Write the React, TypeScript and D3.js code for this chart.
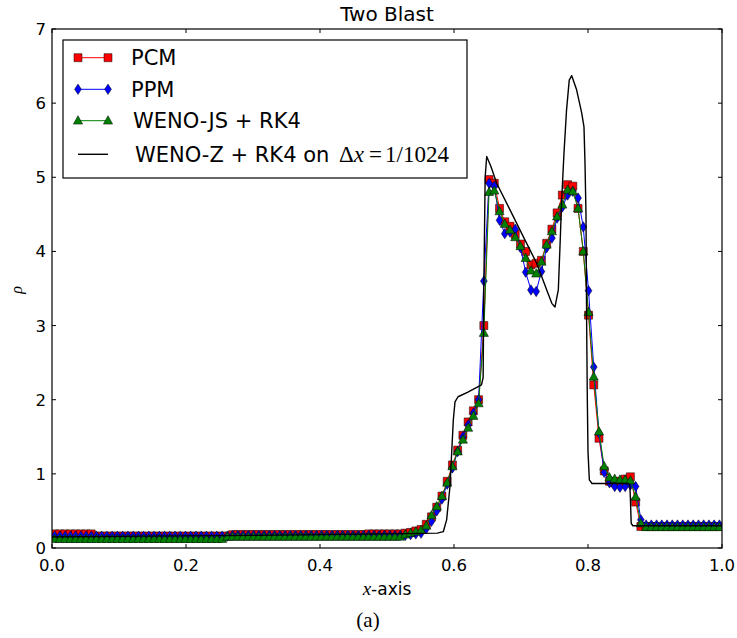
import React, { useEffect, useRef } from 'react';
import * as d3 from 'd3';

// cell-averaged density on a 128-cell grid
const cells = 128;

const pcm = [
  0.19, 0.19, 0.19, 0.19, 0.19, 0.19, 0.19, 0.19,
  0.16, 0.16, 0.16, 0.16, 0.16, 0.16, 0.16, 0.16, 0.16, 0.16,
  0.16, 0.16, 0.16, 0.16, 0.16, 0.16, 0.16, 0.16, 0.16, 0.16,
  0.16, 0.16, 0.16, 0.16, 0.16, 0.16,
  0.18, 0.18, 0.18, 0.18, 0.18, 0.18, 0.18, 0.18, 0.18, 0.18,
  0.18, 0.18, 0.18, 0.18, 0.18, 0.18, 0.18, 0.18, 0.18, 0.18,
  0.18, 0.18, 0.18, 0.18, 0.18, 0.18,
  0.19, 0.19, 0.19, 0.19, 0.19, 0.19, 0.19,
  0.2, 0.21, 0.23, 0.25, 0.32, 0.42, 0.55, 0.70, 0.90, 1.12,
  1.32, 1.52, 1.70, 1.85, 2.0, 3.0, 4.97, 4.92, 4.58, 4.40,
  4.34, 4.23, 4.10, 4.00, 3.82, 3.84, 3.88, 4.11, 4.30, 4.52,
  4.76, 4.90, 4.88, 4.58, 4.00, 3.14, 2.20, 1.48, 1.04, 0.90,
  0.88, 0.90, 0.93, 0.96, 0.62, 0.29,
  0.29, 0.29, 0.29, 0.29, 0.29, 0.29, 0.29, 0.29, 0.29, 0.29,
  0.29, 0.29, 0.29, 0.29, 0.29,
];

const ppm = [
  0.16, 0.16, 0.16, 0.16, 0.16, 0.16, 0.16, 0.16, 0.16, 0.16,
  0.16, 0.16, 0.16, 0.16, 0.16, 0.16, 0.16, 0.16, 0.16, 0.16,
  0.16, 0.16, 0.16, 0.16, 0.16, 0.16, 0.16, 0.16, 0.16, 0.16,
  0.16, 0.16, 0.16, 0.16,
  0.17, 0.17, 0.17, 0.17, 0.17, 0.17, 0.17, 0.17, 0.17, 0.17,
  0.17, 0.17, 0.17, 0.17, 0.17, 0.17, 0.17, 0.17, 0.17, 0.17,
  0.17, 0.17, 0.17, 0.17, 0.17, 0.17, 0.17, 0.17, 0.17, 0.17,
  0.17, 0.17, 0.17,
  0.17, 0.18, 0.19, 0.2, 0.26, 0.36, 0.5, 0.66, 0.86, 1.08,
  1.3, 1.5, 1.66, 1.82, 2.0, 3.6, 4.92, 4.88, 4.42, 4.24,
  4.26, 4.30, 4.05, 3.72, 3.48, 3.46, 3.73, 4.05, 4.18, 4.45,
  4.60, 4.76, 4.81, 4.72, 4.33, 3.47, 2.44, 1.55, 1.02, 0.88,
  0.83, 0.82, 0.83, 0.85, 0.83, 0.38,
  0.31, 0.31, 0.31, 0.31, 0.31, 0.31, 0.31, 0.31, 0.31, 0.31,
  0.31, 0.31, 0.31, 0.31, 0.31,
];

const wenoJs = [
  0.12, 0.12, 0.12, 0.12, 0.12, 0.12, 0.12, 0.12, 0.12, 0.12,
  0.12, 0.12, 0.12, 0.12, 0.12, 0.12, 0.12, 0.12, 0.12, 0.12,
  0.12, 0.12, 0.12, 0.12, 0.12, 0.12, 0.12, 0.12, 0.12, 0.12,
  0.12, 0.12, 0.12,
  0.15, 0.15, 0.15, 0.15, 0.15, 0.15, 0.15, 0.15, 0.15, 0.15,
  0.15, 0.15, 0.15, 0.15, 0.15, 0.15, 0.15, 0.15, 0.15, 0.15,
  0.15, 0.15, 0.15, 0.15, 0.15, 0.15, 0.15, 0.15, 0.15, 0.15,
  0.15, 0.15, 0.15, 0.15,
  0.18, 0.2, 0.22, 0.24, 0.3, 0.44, 0.56, 0.7, 0.88, 1.1,
  1.3, 1.46, 1.62, 1.78, 1.95, 2.9, 4.80, 4.82, 4.54, 4.37,
  4.29, 4.19, 4.07, 3.91, 3.74, 3.70, 3.86, 4.09, 4.27, 4.47,
  4.63, 4.83, 4.81, 4.58, 4.00, 3.18, 2.31, 1.57, 1.10, 0.95,
  0.93, 0.92, 0.92, 0.91, 0.69, 0.33,
  0.28, 0.28, 0.28, 0.28, 0.28, 0.28, 0.28, 0.28, 0.28, 0.28,
  0.28, 0.28, 0.28, 0.28, 0.28,
];

// fine-grid reference (WENO-Z, dx = 1/1024), traced points
const refX = [
  0, 0.3, 0.5, 0.575, 0.584, 0.589, 0.594, 0.599, 0.6015, 0.606,
  0.62, 0.641, 0.6435, 0.6445, 0.6465, 0.6488, 0.655, 0.6637, 0.6836, 0.7034,
  0.7234, 0.7384, 0.746, 0.7507, 0.7557, 0.758, 0.7607, 0.764, 0.768, 0.772,
  0.7757, 0.783, 0.7906, 0.794, 0.7955, 0.797, 0.798, 0.799, 0.8, 0.802,
  0.806, 0.86, 0.8625, 0.8635, 0.8645, 0.867, 1.0,
];
const refRho = [
  0.15, 0.17, 0.19, 0.2, 0.22, 0.38, 0.83, 1.73, 1.97, 2.04,
  2.1, 2.2, 2.3, 3.5, 5.0, 5.28, 5.15, 4.92, 4.56, 4.2,
  3.84, 3.48, 3.3, 3.25, 3.48, 4.02, 4.69, 5.3, 5.91, 6.31,
  6.37, 6.18, 5.87, 5.68, 5.2, 4.5, 3.0, 2.0, 1.3, 0.92,
  0.87, 0.87, 0.85, 0.6, 0.33, 0.3, 0.3,
];

const xTicks = [0, 0.2, 0.4, 0.6, 0.8, 1.0];
const yTicks = [0, 1, 2, 3, 4, 5, 6, 7];

const App = () => {
  const svgRef = useRef(null);

  useEffect(() => {
    const width = 737;
    const height = 638;
    const margin = { top: 29, right: 15, bottom: 90, left: 52 };
    const w = width - margin.left - margin.right;
    const h = height - margin.top - margin.bottom;
    const sans = 'DejaVu Sans, sans-serif';
    const serif = 'Liberation Serif, DejaVu Serif, serif';

    const svg = d3.select(svgRef.current);
    svg.selectAll('*').remove();
    svg.attr('width', width).attr('height', height);

    const x = d3.scaleLinear().domain([0, 1]).range([0, w]);
    const y = d3.scaleLinear().domain([0, 7]).range([h, 0]);
    const xc = d3.range(cells).map(i => (i + 0.5) / cells);

    svg.append('defs').append('clipPath').attr('id', 'plotclip')
      .append('rect').attr('width', w).attr('height', h);

    const g = svg.append('g').attr('transform', `translate(${margin.left},${margin.top})`);
    const plot = g.append('g').attr('clip-path', 'url(#plotclip)');

    const line = d3.line().x(d => x(d[0])).y(d => y(d[1]));

    const square = d3.symbol().type(d3.symbolSquare).size(64);
    const diamond = 'M0,-5.2L3.4,0L0,5.2L-3.4,0Z';
    const triangle = 'M0,-5L4.6,3.4L-4.6,3.4Z';

    const series = [
      { name: 'PCM', values: pcm, color: '#ff0000', marker: square() },
      { name: 'PPM', values: ppm, color: '#0000ff', marker: diamond },
      { name: 'WENO-JS + RK4', values: wenoJs, color: '#008000', marker: triangle },
    ];

    series.forEach(s => {
      const pts = s.values.map((v, i) => [xc[i], v]);
      plot.append('path')
        .attr('d', line(pts))
        .attr('fill', 'none')
        .attr('stroke', s.color)
        .attr('stroke-width', 1);
      plot.selectAll(null)
        .data(pts)
        .enter()
        .append('path')
        .attr('d', s.marker)
        .attr('transform', d => `translate(${x(d[0])},${y(d[1])})`)
        .attr('fill', s.color)
        .attr('stroke', '#000')
        .attr('stroke-width', 0.5);
    });

    plot.append('path')
      .attr('d', line(refX.map((v, i) => [v, refRho[i]])))
      .attr('fill', 'none')
      .attr('stroke', '#000')
      .attr('stroke-width', 1.4)
      .attr('stroke-linejoin', 'round');

    // frame and ticks (inside, all four sides)
    g.append('rect').attr('width', w).attr('height', h)
      .attr('fill', 'none').attr('stroke', '#000').attr('stroke-width', 1.2);

    const tl = 4;
    xTicks.forEach(t => {
      g.append('line').attr('x1', x(t)).attr('x2', x(t)).attr('y1', h).attr('y2', h - tl).attr('stroke', '#000');
      g.append('line').attr('x1', x(t)).attr('x2', x(t)).attr('y1', 0).attr('y2', tl).attr('stroke', '#000');
      g.append('text').attr('x', x(t)).attr('y', h + 23)
        .attr('text-anchor', 'middle').attr('font-family', sans).attr('font-size', 16.5)
        .text(d3.format('.1f')(t));
    });
    yTicks.forEach(t => {
      g.append('line').attr('x1', 0).attr('x2', tl).attr('y1', y(t)).attr('y2', y(t)).attr('stroke', '#000');
      g.append('line').attr('x1', w).attr('x2', w - tl).attr('y1', y(t)).attr('y2', y(t)).attr('stroke', '#000');
      g.append('text').attr('x', -6).attr('y', y(t)).attr('dy', '0.36em')
        .attr('text-anchor', 'end').attr('font-family', sans).attr('font-size', 16.5)
        .text(t);
    });

    // title and axis labels
    svg.append('text').attr('x', margin.left + w / 2).attr('y', 21)
      .attr('text-anchor', 'middle').attr('font-family', sans).attr('font-size', 20)
      .text('Two Blast');

    const xl = svg.append('text').attr('x', margin.left + w / 2).attr('y', 595)
      .attr('text-anchor', 'middle').attr('font-family', sans).attr('font-size', 17);
    xl.append('tspan').attr('font-family', serif).attr('font-style', 'italic').attr('font-size', 19).text('x');
    xl.append('tspan').text('-axis');

    svg.append('text').attr('x', 368).attr('y', 627)
      .attr('text-anchor', 'middle').attr('font-family', serif).attr('font-size', 21)
      .text('(a)');

    svg.append('text').attr('transform', 'translate(22,290) rotate(-90)')
      .attr('text-anchor', 'middle').attr('font-family', serif).attr('font-style', 'italic')
      .attr('font-size', 16).text('ρ');

    // legend
    const lg = svg.append('g');
    lg.append('rect').attr('x', 63).attr('y', 40).attr('width', 404).attr('height', 138)
      .attr('fill', '#fff').attr('stroke', '#000').attr('stroke-width', 1.2);
    const rowY = [57.7, 89.3, 120.7, 154.3];
    const textX = [131, 131, 133, 135];
    series.forEach((s, i) => {
      const ry = rowY[i];
      lg.append('line').attr('x1', 78).attr('x2', 108).attr('y1', ry).attr('y2', ry)
        .attr('stroke', s.color).attr('stroke-width', 1);
      [78, 108].forEach(mx => {
        lg.append('path').attr('d', s.marker).attr('transform', `translate(${mx},${ry})`)
          .attr('fill', s.color).attr('stroke', '#000').attr('stroke-width', 0.5);
      });
      lg.append('text').attr('x', textX[i]).attr('y', ry + 7.5).attr('font-family', sans)
        .attr('font-size', 21).text(s.name);
    });
    lg.append('line').attr('x1', 78).attr('x2', 108).attr('y1', rowY[3]).attr('y2', rowY[3])
      .attr('stroke', '#000').attr('stroke-width', 1.4);
    const rt = lg.append('text').attr('x', textX[3]).attr('y', rowY[3] + 7.5)
      .attr('font-family', sans).attr('font-size', 21);
    rt.append('tspan').text('WENO-Z + RK4 on ');
    rt.append('tspan').attr('font-family', serif).attr('font-size', 23).attr('dx', 3).text('Δ');
    rt.append('tspan').attr('font-family', serif).attr('font-style', 'italic').attr('font-size', 23).text('x');
    rt.append('tspan').attr('font-family', serif).attr('font-size', 23).attr('dx', 5).text('=');
    rt.append('tspan').attr('font-family', serif).attr('font-size', 23).attr('dx', 3).text('1/1024');
  }, []);

  return <svg ref={svgRef} style={{ position: 'absolute', left: 0, top: 0 }}></svg>;
};

export default App;
